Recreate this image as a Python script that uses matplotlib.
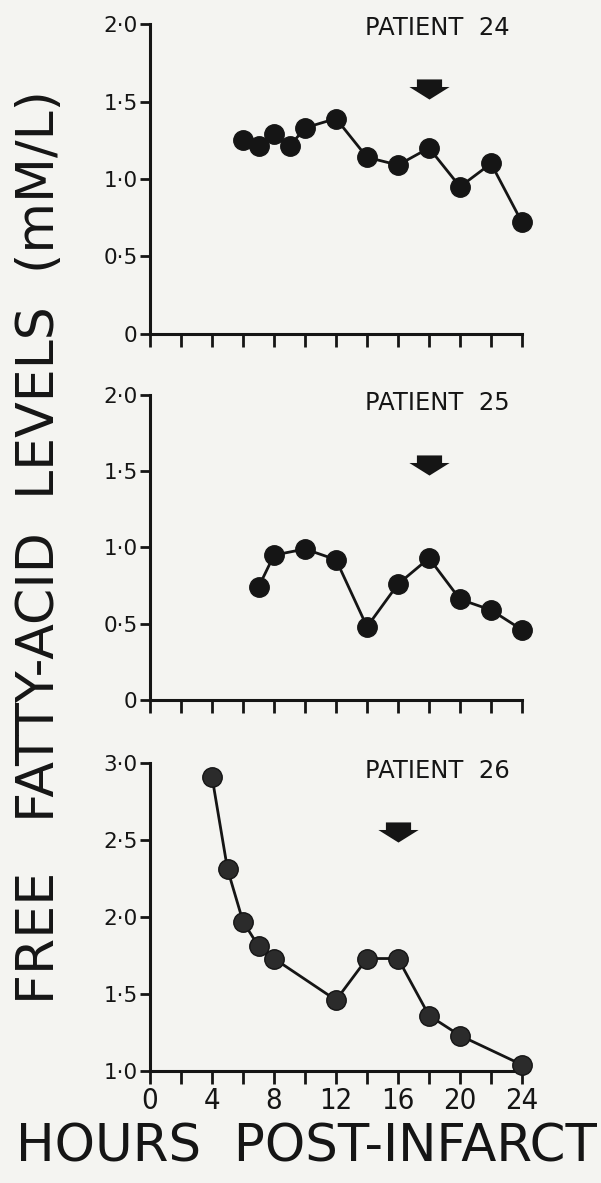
import matplotlib.pyplot as plt
import numpy as np
from matplotlib.path import Path

# FFA levels (mM/L) against hours after infarct
hours_24 = [6, 7, 8, 9, 10, 12, 14, 16, 18, 20, 22, 24]
ffa_24 = [1.25, 1.21, 1.29, 1.21, 1.33, 1.39, 1.14, 1.09, 1.20, 0.95, 1.10, 0.72]

hours_25 = [7, 8, 10, 12, 14, 16, 18, 20, 22, 24]
ffa_25 = [0.74, 0.95, 0.99, 0.92, 0.48, 0.76, 0.93, 0.66, 0.59, 0.46]

hours_26 = [4, 5, 6, 7, 8, 12, 14, 16, 18, 20, 24]
ffa_26 = [2.91, 2.31, 1.97, 1.81, 1.73, 1.46, 1.73, 1.73, 1.36, 1.23, 1.04]

patients = ['PATIENT  24', 'PATIENT  25', 'PATIENT  26']
arrow_hours = [18, 18, 16]
arrow_levels = [1.58, 1.54, 2.55]

yticks_a = [0, 0.5, 1.0, 1.5, 2.0]
ylabels_a = ['0', '0·5', '1·0', '1·5', '2·0']
yticks_b = [1.0, 1.5, 2.0, 2.5, 3.0]
ylabels_b = ['1·0', '1·5', '2·0', '2·5', '3·0']
xticks = list(range(0, 25, 2))
xlabels = [str(h) if h % 4 == 0 else '' for h in xticks]

bg = '#f4f4f1'
ink = '#151515'

fig = plt.figure(figsize=(6.01, 11.83), dpi=100, facecolor=bg)

# panel rectangles in figure fractions: left, bottom, width, height
rects = [
    [0.2496, 0.7177, 0.619, 0.262],
    [0.2496, 0.4083, 0.619, 0.2578],
    [0.2496, 0.0947, 0.619, 0.2604],
]
series = [(hours_24, ffa_24), (hours_25, ffa_25), (hours_26, ffa_26)]
ylims = [(0, 2.0), (0, 2.0), (1.0, 3.0)]
ytk = [(yticks_a, ylabels_a), (yticks_a, ylabels_a), (yticks_b, ylabels_b)]
title_y = [0.965, 0.951, 0.951]

# thick down arrow used to flag the time point
arrow_verts = [(-12.5, 10), (12.5, 10), (12.5, 2.5), (20, 2.5),
               (0, -10), (-20, 2.5), (-12.5, 2.5), (-12.5, 10)]
arrow_marker = Path(arrow_verts, closed=True)

for i, rect in enumerate(rects):
    ax = fig.add_axes(rect)
    ax.set_facecolor(bg)
    x, y = series[i]
    face = '#2b2b2b' if i == 2 else ink
    ax.plot(x, y, color=ink, lw=2.0, marker='o', ms=14, mfc=face,
            mec=ink, mew=1.0, clip_on=False, zorder=3)
    ax.plot(arrow_hours[i], arrow_levels[i], marker=arrow_marker, ms=29,
            color=ink, mew=0, clip_on=False)

    ax.set_xlim(0, 24)
    ax.set_ylim(*ylims[i])
    ax.set_xticks(xticks)
    ax.set_yticks(ytk[i][0])
    ax.set_yticklabels(ytk[i][1], family='DejaVu Sans', fontsize=15.5, color=ink)
    if i == 2:
        ax.set_xticklabels(xlabels, family='DejaVu Sans', fontstretch='condensed',
                           fontsize=21, color=ink)
    else:
        ax.set_xticklabels([])

    for s in ['top', 'right']:
        ax.spines[s].set_visible(False)
    for s in ['left', 'bottom']:
        ax.spines[s].set_linewidth(2.2)
        ax.spines[s].set_color(ink)
    ax.tick_params(axis='x', direction='out', length=9.5, width=2, color=ink, pad=2)
    ax.tick_params(axis='y', direction='out', length=7, width=2, color=ink, pad=2)

    ax.text(0.578, title_y[i], patients[i], transform=ax.transAxes,
            fontsize=17.5, color=ink, ha='left', va='baseline')

fig.text(40 / 601, 1 - 547 / 1183, 'FREE   FATTY-ACID  LEVELS  (mM/L)',
         rotation=90, ha='center', va='center', fontsize=37.5, color=ink)
fig.text(306 / 601, 1 - 1147 / 1183, 'HOURS  POST-INFARCT',
         ha='center', va='center', fontsize=37, color=ink)

fig.savefig('out.png', dpi=100, facecolor=bg)
